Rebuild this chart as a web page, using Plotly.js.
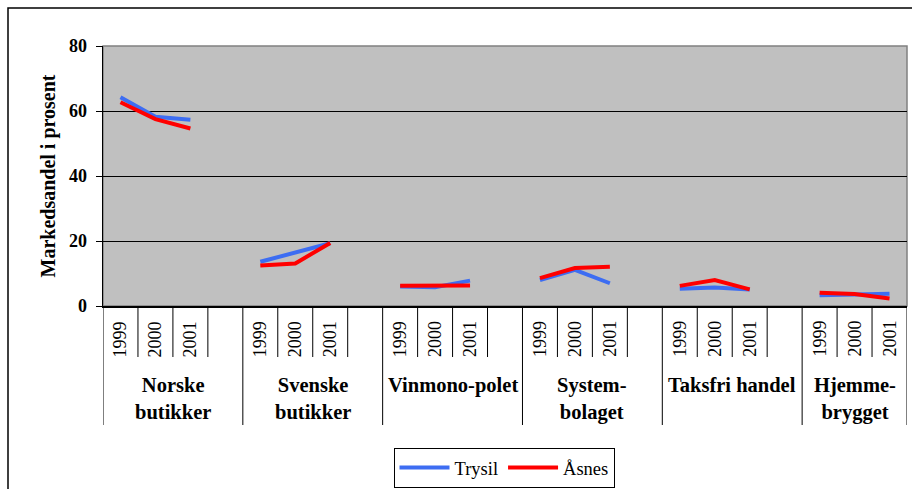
<!DOCTYPE html>
<html>
<head>
<meta charset="utf-8">
<script src="https://cdn.plot.ly/plotly-3.0.1.min.js"></script>
<style>html,body{margin:0;padding:0;background:#fff;}#chart{width:912px;height:489px;}</style>
</head>
<body>
<div id="chart"></div>
<script>
const groups = ["Norske<br>butikker", "Svenske<br>butikker", "Vinmono-polet", "System-<br>bolaget", "Taksfri handel", "Hjemme-<br>brygget"];
const years = ["1999", "2000", "2001"];
const seriesNames = ["Trysil", "Åsnes"];
const trysil = [64.2, 58.2, 57.3, 13.6, 16.6, 19.3, 6.0, 5.8, 7.8, 8.0, 11.1, 7.0, 5.3, 5.7, 5.1, 3.3, 3.6, 3.8];
const asnes  = [62.7, 57.5, 54.6, 12.5, 13.1, 19.4, 6.2, 6.1, 6.3, 8.6, 11.7, 12.1, 6.2, 8.0, 5.1, 4.1, 3.7, 2.3];

const slotsPerGroup = 4;
const nSlots = groups.length * slotsPerGroup - 1;

function build(vals) {
  const xs = [], ys = [];
  groups.forEach((g, gi) => {
    years.forEach((yr, yi) => {
      xs.push(gi * slotsPerGroup + yi + 0.5);
      ys.push(vals[gi * years.length + yi]);
    });
    xs.push(gi * slotsPerGroup + 3.5); ys.push(null);
  });
  return {xs, ys};
}

const serif = "Liberation Serif, Times New Roman, serif";
const t1 = build(trysil), t2 = build(asnes);
const traces = [
  {x: t1.xs, y: t1.ys, name: seriesNames[0], type: 'scatter', mode: 'lines',
   line: {color: '#3d6df2', width: 4}, connectgaps: false, hoverinfo: 'skip'},
  {x: t2.xs, y: t2.ys, name: seriesNames[1], type: 'scatter', mode: 'lines',
   line: {color: '#ff0000', width: 4}, connectgaps: false, hoverinfo: 'skip'}
];

const plotTop = 46, plotBottom = 306, plotLeft = 103, plotRight = 907;
const ph = plotBottom - plotTop, pw = plotRight - plotLeft;
const py = p => (plotBottom - p) / ph;
const px = p => (p - plotLeft) / pw;

const shapes = [];
const annotations = [];
for (let k = 0; k <= nSlots; k++) {
  const isGroup = (k % slotsPerGroup === 0) || k === nSlots;
  shapes.push({type: 'line', xref: 'x', yref: 'paper', x0: k, x1: k,
    y0: 0, y1: py(isGroup ? 425 : 357), line: {color: '#000', width: 1}});
}
groups.forEach((g, gi) => {
  years.forEach((yr, yi) => {
    annotations.push({text: yr, xref: 'x', yref: 'paper', x: gi * slotsPerGroup + yi + 0.5,
      y: py(339), xanchor: 'center', yanchor: 'middle', textangle: -90, showarrow: false,
      font: {family: serif, size: 18, color: '#000'}});
  });
  const span = gi === groups.length - 1 ? 3 : 4;
  annotations.push({text: '<b>' + g + '</b>', xref: 'x', yref: 'paper', x: gi * slotsPerGroup + span / 2,
    y: py(372), xanchor: 'center', yanchor: 'top', showarrow: false,
    font: {family: serif, size: 20.5, color: '#000'}});
});
shapes.push({type: 'rect', xref: 'paper', yref: 'paper', x0: 0, x1: 1, y0: 0, y1: 1,
  line: {color: '#808080', width: 1.5}, layer: 'below'});
shapes.push({type: 'rect', xref: 'paper', yref: 'paper', x0: px(8), x1: px(920), y0: py(500), y1: py(8),
  line: {color: '#000', width: 1.5}});

const layout = {
  width: 912, height: 489,
  margin: {l: plotLeft, r: 912 - plotRight, t: plotTop, b: 489 - plotBottom, autoexpand: false},
  paper_bgcolor: '#fff', plot_bgcolor: '#c0c0c0',
  font: {family: serif, color: '#000'},
  showlegend: true,
  legend: {orientation: 'h', x: px(504), xanchor: 'center', y: py(448), yanchor: 'top',
    bordercolor: '#000', borderwidth: 1, bgcolor: '#fff', itemwidth: 50,
    font: {family: serif, size: 18.5, color: '#000'}},
  xaxis: {range: [0, nSlots], showticklabels: false, ticks: '', showgrid: false, zeroline: false,
    showline: true, linecolor: '#000', linewidth: 1.5, fixedrange: true},
  yaxis: {range: [0, 80], dtick: 20, tick0: 0, ticks: 'outside', ticklen: 6, tickcolor: '#000',
    ticklabelstandoff: 5,
    showgrid: true, gridcolor: '#000', gridwidth: 1, zeroline: false,
    showline: true, linecolor: '#000', linewidth: 1.5,
    tickfont: {family: serif, size: 18, color: '#000', weight: 'bold'},
    title: {text: '<b>Markedsandel i prosent</b>', standoff: 8,
      font: {family: serif, size: 20, color: '#000'}}},
  shapes: shapes,
  annotations: annotations
};

Plotly.newPlot('chart', traces, layout, {staticPlot: true, displayModeBar: false});
</script>
</body>
</html>
